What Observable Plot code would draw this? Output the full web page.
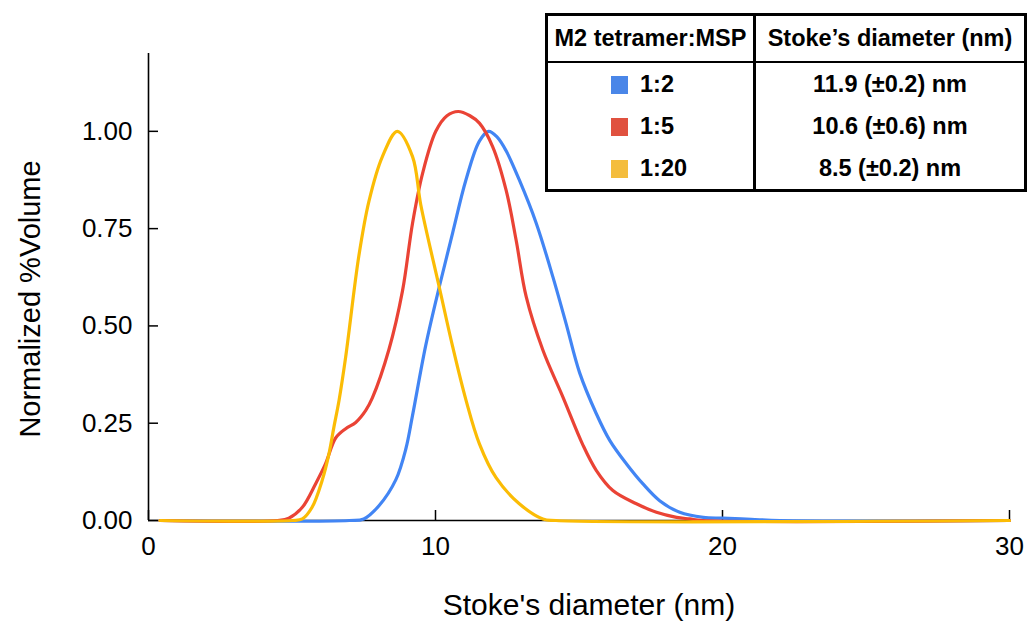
<!DOCTYPE html>
<html><head><meta charset="utf-8">
<script src="https://cdn.jsdelivr.net/npm/d3@7"></script>
<script src="https://cdn.jsdelivr.net/npm/@observablehq/plot@0.6"></script>
<style>
html,body{margin:0;padding:0;background:#fff;}
#wrap{position:relative;width:1028px;height:633px;}
#legendTable{position:absolute;left:545px;top:13px;width:482px;border-collapse:collapse;border:3px solid #000;box-sizing:border-box;font-family:"Liberation Sans",Arial,sans-serif;font-weight:bold;font-size:23.5px;color:#000;table-layout:fixed;background:#fff;}
#legendTable td,#legendTable th{padding:0;white-space:nowrap;}
#legendTable th{height:45px;border-bottom:2px solid #000;font-weight:bold;text-align:center;}
#legendTable .c1{border-right:3px solid #000;}
#legendTable td{height:42px;}
#legendTable td.c1{text-align:left;padding-left:63px;}
#legendTable td.c2{text-align:center;}
.sw{display:inline-block;width:17px;height:18px;vertical-align:-2px;margin-right:12px;}
</style></head><body><div id="wrap"></div>
<script>
// ---- data ----
const ratios = ["1:2", "1:5", "1:20"];
const stokesValues = ["11.9 (±0.2) nm", "10.6 (±0.6) nm", "8.5 (±0.2) nm"];
const seriesColors = ["#4285f4", "#ea4335", "#fbbc05"];
const swatchColors = ["#4a86e8", "#e0513f", "#f4bd3d"];
const tableHeaders = ["M2 tetramer:MSP", "Stoke\u2019s diameter (nm)"];
const xLabel = "Stoke's diameter (nm)";
const yLabel = "Normalized %Volume";
const xTicks = [0, 10, 20, 30];
const yTicks = [0, 0.25, 0.5, 0.75, 1.0];

const diam_1_2 = [0.4, 7.0, 7.5, 8.03, 8.62, 8.97, 9.2, 9.66, 10.13, 10.6, 11.06, 11.53, 11.85, 12.15, 12.46, 12.92, 13.51, 14.09, 14.55, 15.02, 15.6, 16.07, 16.65, 17.23, 17.81, 18.51, 19.33, 20.0, 21.0, 22.0, 30];
const vol_1_2  = [0, 0, 0.004, 0.038, 0.105, 0.185, 0.27, 0.45, 0.6, 0.74, 0.875, 0.975, 1.0, 0.985, 0.95, 0.875, 0.764, 0.626, 0.506, 0.38, 0.275, 0.206, 0.146, 0.094, 0.051, 0.021, 0.008, 0.006, 0.003, 0, 0];

const diam_1_5 = [0.4, 4.5, 4.89, 5.36, 5.82, 6.17, 6.52, 6.87, 7.22, 7.57, 7.8, 8.38, 8.85, 9.2, 9.55, 10.01, 10.4, 10.79, 11.2, 11.53, 11.99, 12.46, 12.81, 13.16, 13.74, 14.44, 15.13, 15.6, 16.18, 17.0, 17.7, 18.4, 18.86, 19.3, 30];
const vol_1_5  = [0, 0, 0.006, 0.034, 0.094, 0.146, 0.212, 0.236, 0.252, 0.283, 0.315, 0.44, 0.59, 0.764, 0.892, 1.0, 1.04, 1.051, 1.04, 1.021, 0.961, 0.849, 0.72, 0.575, 0.438, 0.317, 0.195, 0.129, 0.077, 0.043, 0.021, 0.008, 0.004, 0, 0];

const diam_1_20 = [0.4, 5.0, 5.36, 5.7, 6.05, 6.29, 6.46, 6.64, 6.87, 7.33, 7.68, 8.15, 8.67, 9.2, 9.49, 10.13, 10.6, 11.06, 11.53, 12.11, 12.92, 13.74, 14.2, 30];
const vol_1_20  = [0, 0, 0.004, 0.034, 0.103, 0.172, 0.24, 0.309, 0.42, 0.68, 0.82, 0.935, 1.0, 0.935, 0.81, 0.60, 0.446, 0.31, 0.197, 0.11, 0.043, 0.004, 0, 0];

// ---- build ----
const diams = [diam_1_2, diam_1_5, diam_1_20];
const vols = [vol_1_2, vol_1_5, vol_1_20];
const rows = ratios.flatMap((r, i) => diams[i].map((d, j) => ({ratio: r, d, v: vols[i][j]})));

const chart = Plot.plot({
  width: 1028, height: 633,
  marginLeft: 148, marginRight: 19, marginTop: 53, marginBottom: 113,
  style: {fontFamily: "'Liberation Sans', Arial, sans-serif", fontSize: "26px", color: "#000", background: "transparent"},
  x: {domain: [0, 30]},
  y: {domain: [0, 1.2]},
  color: {domain: ratios, range: seriesColors},
  marks: [
    Plot.ruleY([0], {stroke: "#000", strokeWidth: 1.6}),
    Plot.ruleX([0], {y1: 0, y2: 1.2, stroke: "#000", strokeWidth: 1.6}),
    Plot.axisX(xTicks, {tickSize: -10, tickPadding: 26, strokeWidth: 1.5, label: null, tickFormat: d => String(d)}),
    Plot.axisY(yTicks, {tickSize: -10, tickPadding: 26, strokeWidth: 1.5, label: null, tickFormat: d3.format(".2f")}),
    Plot.line(rows, {x: "d", y: "v", z: "ratio", stroke: "ratio", strokeWidth: 3.2, curve: "catmull-rom"}),
    Plot.text([yLabel], {frameAnchor: "left", textAnchor: "middle", rotate: -90, dx: -118, dy: 12, fontSize: 29}),
    Plot.text([xLabel], {frameAnchor: "bottom", textAnchor: "middle", dx: 10, dy: 94, fontSize: 30})
  ]
});
const wrap = document.getElementById("wrap");
wrap.appendChild(chart);

// legend / summary table
const tbl = document.createElement("table");
tbl.id = "legendTable";
const cg = document.createElement("colgroup");
cg.innerHTML = '<col style="width:208px"><col>';
tbl.appendChild(cg);
const thead = tbl.createTHead().insertRow();
tableHeaders.forEach((h, i) => {
  const th = document.createElement("th");
  th.className = "c" + (i + 1);
  th.textContent = h;
  thead.appendChild(th);
});
const tb = tbl.createTBody();
ratios.forEach((r, i) => {
  const tr = tb.insertRow();
  const c1 = tr.insertCell(); c1.className = "c1";
  const sw = document.createElement("span"); sw.className = "sw"; sw.style.background = swatchColors[i];
  c1.appendChild(sw); c1.appendChild(document.createTextNode(r));
  const c2 = tr.insertCell(); c2.className = "c2"; c2.textContent = stokesValues[i];
});
wrap.appendChild(tbl);
</script></body></html>
